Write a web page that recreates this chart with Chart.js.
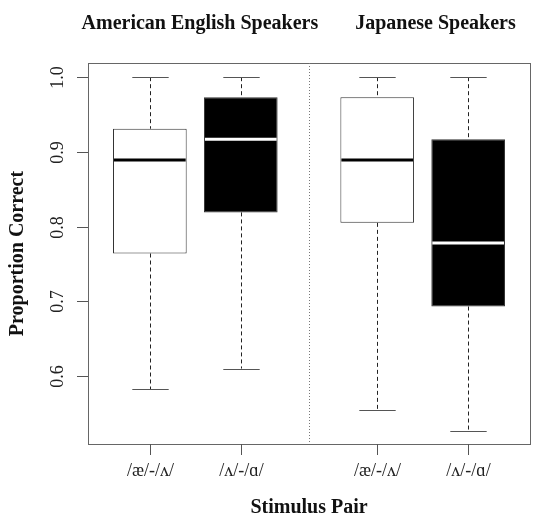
<!DOCTYPE html>
<html>
<head>
<meta charset="utf-8">
<script src="https://cdn.jsdelivr.net/npm/chart.js@4/dist/chart.umd.min.js"></script>
<style>
	html, body { margin: 0; padding: 0; background: #fff; }
	#wrap { width: 539px; height: 524px; }
</style>
</head>
<body>
<div id="wrap"><canvas id="boxChart"></canvas></div>
<script>
// values
const categories = ['/æ/-/ʌ/', '/ʌ/-/ɑ/', '/æ/-/ʌ/', '/ʌ/-/ɑ/'];
const positions = [1, 2, 3.5, 4.5];
const groups = ['American English Speakers', 'Japanese Speakers'];
const whiskerLow = [0.582, 0.610, 0.554, 0.527];
const q1 = [0.764, 0.819, 0.805, 0.693];
const median = [0.889, 0.917, 0.889, 0.778];
const q3 = [0.931, 0.973, 0.973, 0.917];
const whiskerHigh = [1.0, 1.0, 1.0, 1.0];
const yTicks = [0.6, 0.7, 0.8, 0.9, 1.0];

const serif = '"Liberation Serif", "Times New Roman", serif';
const fills = ['#ffffff', '#000000', '#ffffff', '#000000'];
const medianColors = ['#000000', '#ffffff', '#000000', '#ffffff'];

const boxPlugin = {
	id: 'boxDecor',
	beforeDatasetsDraw(chart) {
		const { ctx, scales: { x, y } } = chart;
		ctx.save();
		// whiskers
		positions.forEach((p, i) => {
			const px = Math.round(x.getPixelForValue(p)) + 0.5;
			const capHalf = x.getPixelForValue(p + 0.2) - x.getPixelForValue(p);
			ctx.strokeStyle = '#222';
			ctx.lineWidth = 1;
			ctx.setLineDash([4, 3]);
			ctx.beginPath();
			ctx.moveTo(px, y.getPixelForValue(whiskerHigh[i]));
			ctx.lineTo(px, y.getPixelForValue(q3[i]));
			ctx.moveTo(px, y.getPixelForValue(q1[i]));
			ctx.lineTo(px, y.getPixelForValue(whiskerLow[i]));
			ctx.stroke();
			ctx.setLineDash([]);
			ctx.strokeStyle = '#555';
			ctx.beginPath();
			[whiskerHigh[i], whiskerLow[i]].forEach(v => {
				const py = Math.round(y.getPixelForValue(v)) + 0.5;
				ctx.moveTo(px - capHalf, py);
				ctx.lineTo(px + capHalf, py);
			});
			ctx.stroke();
		});
		ctx.restore();
	},
	afterDatasetsDraw(chart) {
		const { ctx, chartArea: a, scales: { x, y } } = chart;
		ctx.save();
		// medians
		positions.forEach((p, i) => {
			const half = x.getPixelForValue(p + 0.405) - x.getPixelForValue(p);
			const px = x.getPixelForValue(p);
			const py = y.getPixelForValue(median[i]);
			ctx.strokeStyle = medianColors[i];
			ctx.lineWidth = 3;
			ctx.beginPath();
			ctx.moveTo(px - half + 1, py);
			ctx.lineTo(px + half - 1, py);
			ctx.stroke();
		});

		// frame
		ctx.strokeStyle = '#666';
		ctx.lineWidth = 1;
		ctx.strokeRect(Math.round(a.left) + 0.5, Math.round(a.top) + 0.5,
			Math.round(a.right - a.left), Math.round(a.bottom - a.top));

		// separator between the two groups
		const sx = Math.round(x.getPixelForValue(2.75)) + 0.5;
		ctx.strokeStyle = '#777';
		ctx.setLineDash([1, 2]);
		ctx.beginPath();
		ctx.moveTo(sx, a.top);
		ctx.lineTo(sx, a.bottom);
		ctx.stroke();
		ctx.setLineDash([]);

		// y ticks
		ctx.strokeStyle = '#555';
		ctx.fillStyle = '#222';
		ctx.font = '18px ' + serif;
		ctx.textAlign = 'center';
		ctx.textBaseline = 'middle';
		yTicks.forEach(v => {
			const py = Math.round(y.getPixelForValue(v)) + 0.5;
			ctx.beginPath();
			ctx.moveTo(a.left - 11, py);
			ctx.lineTo(a.left, py);
			ctx.stroke();
			ctx.save();
			ctx.translate(58, py);
			ctx.rotate(-Math.PI / 2);
			ctx.fillText(v.toFixed(1), 0, 0);
			ctx.restore();
		});

		// x ticks
		positions.forEach((p, i) => {
			const px = Math.round(x.getPixelForValue(p)) + 0.5;
			ctx.beginPath();
			ctx.moveTo(px, a.bottom);
			ctx.lineTo(px, a.bottom + 11);
			ctx.stroke();
			ctx.fillText(categories[i], px, 471);
		});

		// titles
		ctx.fillStyle = '#111';
		ctx.font = 'bold 20px ' + serif;
		ctx.fillText(groups[0], x.getPixelForValue(1.55), 24);
		ctx.fillText(groups[1], x.getPixelForValue(4.14), 24);
		ctx.fillText('Stimulus Pair', (a.left + a.right) / 2, 508);
		ctx.save();
		ctx.translate(18, (a.top + a.bottom) / 2);
		ctx.rotate(-Math.PI / 2);
		ctx.fillText('Proportion Correct', 0, 0);
		ctx.restore();
		ctx.restore();
	}
};

new Chart(document.getElementById('boxChart').getContext('2d'), {
	type: 'bar',
	data: {
		datasets: [{
			label: 'IQR',
			data: positions.map((p, i) => ({ x: p, y: [q1[i], q3[i]] })),
			backgroundColor: fills,
			borderColor: '#333',
			borderWidth: 1,
			borderSkipped: false,
			categoryPercentage: 1,
			barPercentage: 0.81
		}]
	},
	options: {
		responsive: true,
		maintainAspectRatio: false,
		animation: false,
		layout: { padding: { left: 88, right: 9, top: 63, bottom: 80 } },
		plugins: { legend: { display: false }, tooltip: { enabled: false } },
		scales: {
			x: {
				type: 'linear',
				offset: false,
				min: 0.32,
				max: 5.18,
				afterBuildTicks: scale => {
					scale.ticks = positions.map(v => ({ value: v }));
				},
				ticks: { display: false },
				grid: { display: false, drawTicks: false, offset: false },
				border: { display: false }
			},
			y: {
				min: 0.509,
				max: 1.019,
				ticks: { display: false },
				grid: { display: false, drawTicks: false },
				border: { display: false }
			}
		}
	},
	plugins: [boxPlugin]
});
</script>
</body>
</html>
